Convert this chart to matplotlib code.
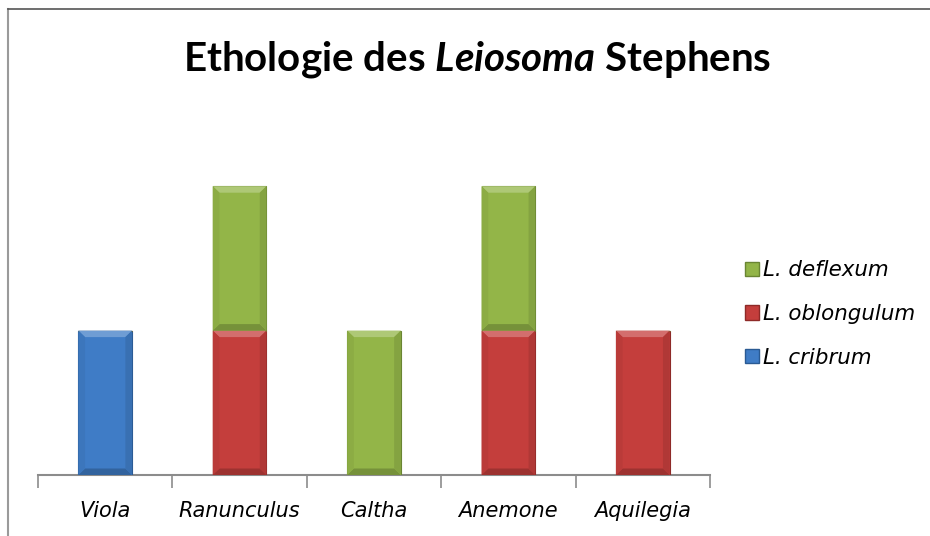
import matplotlib
matplotlib.use("Agg")
import matplotlib.pyplot as plt
from matplotlib.lines import Line2D
from matplotlib.patches import Patch, Polygon
from matplotlib.colors import to_rgb
import numpy as np

# data
genera = ["Viola", "Ranunculus", "Caltha", "Anemone", "Aquilegia"]
cribrum = [1, 0, 0, 0, 0]
oblongulum = [0, 1, 0, 1, 1]
deflexum = [0, 1, 1, 1, 0]

series_names = ["L. cribrum", "L. oblongulum", "L. deflexum"]
colors = ["#3F7CC6", "#C43E3C", "#93B548"]
edges = ["#2A5A93", "#8E2A28", "#6A8533"]

plt.rcParams['font.family'] = ['Lato', 'DejaVu Sans']
plt.rcParams['mathtext.fontset'] = 'custom'
plt.rcParams['mathtext.it'] = 'Lato:italic:bold'
plt.rcParams['mathtext.rm'] = 'Lato:bold'


def shade(c, f):
    """Mix colour c with white (f>0) or black (f<0)."""
    r = np.array(to_rgb(c))
    if f > 0:
        return tuple(r + (1 - r) * f)
    return tuple(r * (1 + f))


fig = plt.figure(figsize=(9.3, 5.36), dpi=100)

# outer frame (only top and left lines visible)
fig.add_artist(Line2D([8/930, 8/930], [0, 1 - 9/536], color="#9a9a9a", lw=1.5))
fig.add_artist(Line2D([8/930, 1], [1 - 9/536, 1 - 9/536], color="#555555", lw=1.2))

# axes placed so baseline is at y=475 px and x spans 38..710 px
ax = fig.add_axes([38/930, 1 - 475/536, (710 - 38)/930, (475 - 114)/536])
x = np.arange(len(genera))
width = 0.4
bx, by = 0.05, 0.045  # bevel size in data units

bottom = np.zeros(len(genera))
for vals, name, c, ec in zip([cribrum, oblongulum, deflexum], series_names, colors, edges):
    vals = np.array(vals, dtype=float)
    ax.bar(x, vals, width, bottom=bottom, color=c, edgecolor=ec, linewidth=0.8,
           label=name, zorder=3)
    for xi, v, b in zip(x, vals, bottom):
        if v <= 0:
            continue
        x0, x1 = xi - width / 2, xi + width / 2
        y0, y1 = b, b + v
        bevels = [
            ([(x0, y1), (x1, y1), (x1 - bx, y1 - by), (x0 + bx, y1 - by)], 0.25),
            ([(x0, y0), (x1, y0), (x1 - bx, y0 + by), (x0 + bx, y0 + by)], -0.2),
            ([(x0, y0), (x0, y1), (x0 + bx, y1 - by), (x0 + bx, y0 + by)], -0.05),
            ([(x1, y0), (x1, y1), (x1 - bx, y1 - by), (x1 - bx, y0 + by)], -0.1),
        ]
        for pts, f in bevels:
            ax.add_patch(Polygon(pts, closed=True, facecolor=shade(c, f),
                                 edgecolor="none", zorder=4))
    bottom += vals

ax.set_xlim(-0.5, len(genera) - 0.5)
ax.set_ylim(0, 2.5)
ax.set_yticks([])
for s in ["top", "right", "left"]:
    ax.spines[s].set_visible(False)
ax.spines["bottom"].set_color("#8c8c8c")
ax.spines["bottom"].set_linewidth(1.5)

# ticks between categories
ax.set_xticks(np.arange(-0.5, len(genera), 1.0))
ax.set_xticklabels([])
ax.tick_params(axis="x", length=9, width=1.2, color="#8c8c8c")
for xi, g in zip(x, genera):
    ax.text(xi, -36/144.5, g, ha="center", va="center", fontsize=15,
            style="italic", family="DejaVu Sans")

fig.text(477/930, 1 - 60/536, "Ethologie des $Leiosoma$ Stephens", ha="center",
         va="center", fontsize=29, fontweight="bold")

handles = [Patch(facecolor=c, edgecolor=ec) for c, ec in zip(colors, edges)][::-1]
labels = series_names[::-1]
leg = fig.legend(handles, labels, loc="center left", bbox_to_anchor=(726/930, 1 - 314/536),
                 frameon=False, prop={"style": "italic", "size": 15.4, "family": "DejaVu Sans"},
                 handlelength=0.65, handleheight=0.65, handletextpad=0.2,
                 labelspacing=1.1)

fig.savefig("out.png", dpi=100)
